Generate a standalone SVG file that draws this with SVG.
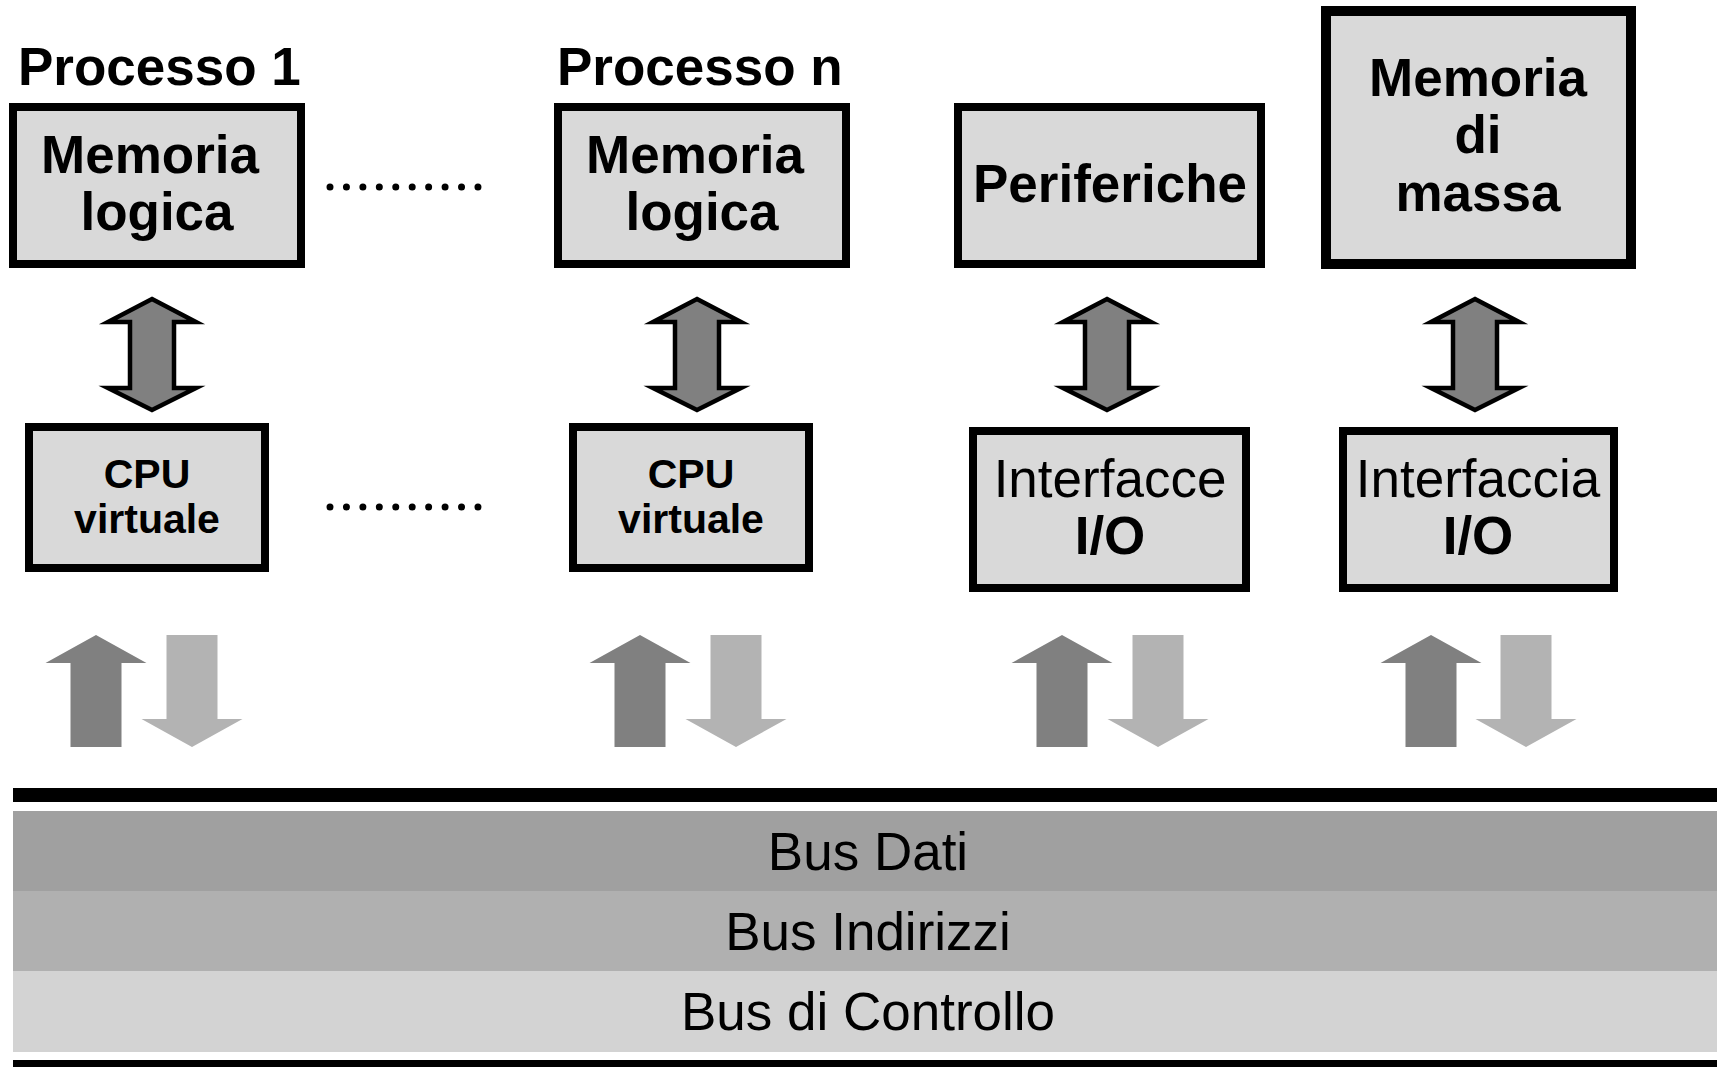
<svg xmlns="http://www.w3.org/2000/svg" xmlns:xlink="http://www.w3.org/1999/xlink" width="1717" height="1067" viewBox="0 0 1717 1067">
<style>
.box{fill:#d9d9d9;stroke:#000;stroke-width:8}
.boxw{fill:#d9d9d9;stroke:#000;stroke-width:10}
.t{font-family:"Liberation Sans",Arial,Helvetica,sans-serif;font-size:53px;text-anchor:middle;fill:#000}
.bd{font-weight:bold}
.cpu{font-family:"Liberation Sans",Arial,Helvetica,sans-serif;font-size:41px;font-weight:bold;text-anchor:middle;fill:#000}
.title{font-family:"Liberation Sans",Arial,Helvetica,sans-serif;font-size:53px;font-weight:bold;fill:#000}
.dbl{fill:#808080;stroke:#000;stroke-width:4.5;stroke-linejoin:miter;stroke-miterlimit:10}
.up{fill:#808080}
.down{fill:#b3b3b3}
.dots{stroke:#000;stroke-width:7;stroke-linecap:round;stroke-dasharray:0 16.44;fill:none}
</style>
<defs>
<path id="dblArrow" class="dbl" d="M0,299 L44,322 L22,322 L22,388 L44,388 L0,410 L-44,388 L-22,388 L-22,322 L-44,322 Z"/>
<path id="upArrow" class="up" d="M0,635 L50.5,663 L25.5,663 L25.5,747 L-25.5,747 L-25.5,663 L-50.5,663 Z"/>
<path id="downArrow" class="down" d="M-25.5,635 L25.5,635 L25.5,719 L50.5,719 L0,747 L-50.5,719 L-25.5,719 Z"/>
</defs>
<rect width="1717" height="1067" fill="#fff"/>

<g id="titles">
<text class="title" x="18" y="85">Processo 1</text>
<text class="title" x="557" y="85">Processo n</text>
</g>

<g id="mem1">
<rect class="box" x="13" y="107" width="288" height="157"/>
<text class="t bd" x="150" y="173">Memoria</text>
<text class="t bd" x="157" y="230">logica</text>
</g>
<g id="memn">
<rect class="box" x="558" y="107" width="288" height="157"/>
<text class="t bd" x="695" y="173">Memoria</text>
<text class="t bd" x="702" y="230">logica</text>
</g>
<g id="periferiche">
<rect class="box" x="958" y="107" width="303" height="157"/>
<text class="t bd" x="1110" y="202">Periferiche</text>
</g>
<g id="memmassa">
<rect class="boxw" x="1326" y="11" width="305" height="253"/>
<text class="t bd" x="1478" y="96">Memoria</text>
<text class="t bd" x="1478" y="153">di</text>
<text class="t bd" x="1478" y="211">massa</text>
</g>
<g id="cpu1">
<rect class="box" x="29" y="427" width="236" height="141"/>
<text class="cpu" x="147" y="488">CPU</text>
<text class="cpu" x="147" y="533">virtuale</text>
</g>
<g id="cpun">
<rect class="box" x="573" y="427" width="236" height="141"/>
<text class="cpu" x="691" y="488">CPU</text>
<text class="cpu" x="691" y="533">virtuale</text>
</g>
<g id="interfacce">
<rect class="box" x="973" y="431" width="273" height="157"/>
<text class="t" x="1110" y="497">Interfacce</text>
<text class="t bd" x="1110" y="554">I/O</text>
</g>
<g id="interfaccia">
<rect class="box" x="1343" y="431" width="271" height="157"/>
<text class="t" x="1478" y="497">Interfaccia</text>
<text class="t bd" x="1478" y="554">I/O</text>
</g>

<g id="ellipsis">
<line class="dots" x1="330" y1="187" x2="478.5" y2="187"/>
<line class="dots" x1="330" y1="507" x2="478.5" y2="507"/>
</g>

<g id="bus">
<rect x="13" y="788" width="1704" height="14" fill="#000"/>
<rect x="13" y="811" width="1704" height="80" fill="#a0a0a0"/>
<rect x="13" y="891" width="1704" height="80" fill="#b0b0b0"/>
<rect x="13" y="971" width="1704" height="81" fill="#d3d3d3"/>
<rect x="13" y="1060" width="1704" height="7" fill="#000"/>
<text class="t" x="868" y="870">Bus Dati</text>
<text class="t" x="868" y="950">Bus Indirizzi</text>
<text class="t" x="868" y="1030">Bus di Controllo</text>
</g>

<g id="connectors">
<use xlink:href="#dblArrow" x="152"/>
<use xlink:href="#dblArrow" x="697"/>
<use xlink:href="#dblArrow" x="1107"/>
<use xlink:href="#dblArrow" x="1475"/>
<use xlink:href="#upArrow" x="96"/>
<use xlink:href="#downArrow" x="192"/>
<use xlink:href="#upArrow" x="640"/>
<use xlink:href="#downArrow" x="736"/>
<use xlink:href="#upArrow" x="1062"/>
<use xlink:href="#downArrow" x="1158"/>
<use xlink:href="#upArrow" x="1431"/>
<use xlink:href="#downArrow" x="1526"/>
</g>
</svg>
